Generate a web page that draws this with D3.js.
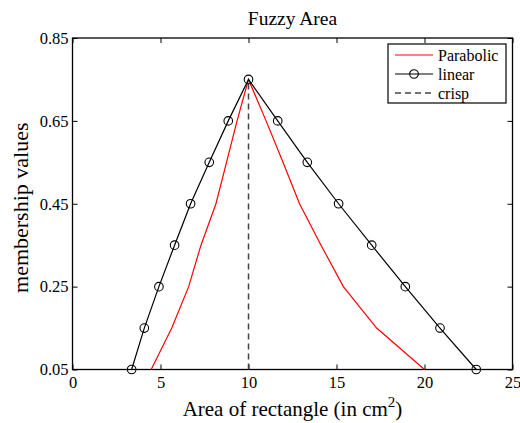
<!DOCTYPE html>
<html>
<head>
<meta charset="utf-8">
<script src="https://cdn.jsdelivr.net/npm/d3@7"></script>
<style>
  body { margin: 0; background: #fff; }
  svg text { font-family: "Liberation Serif", "Times New Roman", serif; fill: #000; }
</style>
</head>
<body>
<svg id="chart" width="520" height="423"></svg>
<script>
'use strict';

// membership levels shared by both curves
var levels = [0.05, 0.15, 0.25, 0.35, 0.45, 0.55, 0.65, 0.75, 0.65, 0.55, 0.45, 0.35, 0.25, 0.15, 0.05];
var linearX = [3.36, 4.08, 4.91, 5.8, 6.71, 7.77, 8.85, 10, 11.66, 13.34, 15.12, 17.0, 18.91, 20.88, 22.94];
var parabolicX = [4.47, 5.64, 6.6, 7.3, 8.15, 8.75, 9.35, 10, 11.0, 11.96, 12.9, 14.12, 15.39, 17.28, 20.0];
var crispX = [10, 10];
var crispY = [0.05, 0.75];
var xTicks = [0, 5, 10, 15, 20, 25];
var yTicks = [0.05, 0.25, 0.45, 0.65, 0.85];
var legendNames = ['Parabolic', 'linear', 'crisp'];

var svg = d3.select('#chart'),
    margin = { top: 38, right: 7.5, bottom: 53.5, left: 72.5 },
    width = 520 - margin.left - margin.right,
    height = 423 - margin.top - margin.bottom,
    x = d3.scaleLinear().domain([0, 25]).range([0, width]),
    y = d3.scaleLinear().domain([0.05, 0.85]).range([height, 0]),
    g = svg.append('g').attr('transform', 'translate(' + margin.left + ',' + margin.top + ')');

function pts(xs, ys) {
  return xs.map(function (d, i) { return [d, ys[i]]; });
}

var line = d3.line().x(function (d) { return x(d[0]); }).y(function (d) { return y(d[1]); });

// axes with inward ticks, box style
function styleAxis(sel) {
  sel.select('.domain').remove();
  sel.selectAll('.tick line').attr('stroke', '#000');
  sel.selectAll('.tick text').style('font-size', '16.5px').style('font-family', '"Liberation Serif", serif');
}

g.append('g').attr('transform', 'translate(0,' + height + ')')
  .call(d3.axisBottom(x).tickValues(xTicks).tickFormat(d3.format('d')).tickSizeInner(-5).tickPadding(7))
  .call(styleAxis);
g.append('g')
  .call(d3.axisTop(x).tickValues(xTicks).tickSizeInner(-5).tickFormat(''))
  .call(styleAxis);
g.append('g')
  .call(d3.axisLeft(y).tickValues(yTicks).tickFormat(d3.format('.2f')).tickSizeInner(-5).tickPadding(4))
  .call(styleAxis);
g.append('g').attr('transform', 'translate(' + width + ',0)')
  .call(d3.axisRight(y).tickValues(yTicks).tickSizeInner(-5).tickFormat(''))
  .call(styleAxis);

g.append('rect').attr('width', width).attr('height', height)
  .attr('fill', 'none').attr('stroke', '#000').attr('stroke-width', 1.3);

// crisp
g.append('path').datum(pts(crispX, crispY)).attr('d', line)
  .attr('fill', 'none').attr('stroke', '#444').attr('stroke-width', 1.5).attr('stroke-dasharray', '6,4');

// parabolic
g.append('path').datum(pts(parabolicX, levels)).attr('d', line)
  .attr('fill', 'none').attr('stroke', '#ff0000').attr('stroke-width', 1.2);

// linear
var linPts = pts(linearX, levels);
g.append('path').datum(linPts).attr('d', line)
  .attr('fill', 'none').attr('stroke', '#000').attr('stroke-width', 1.2);
g.selectAll('circle.mk').data(linPts).enter().append('circle').attr('class', 'mk')
  .attr('cx', function (d) { return x(d[0]); })
  .attr('cy', function (d) { return y(d[1]); })
  .attr('r', 4.3).attr('fill', 'none').attr('stroke', '#000').attr('stroke-width', 1.1);

// title and labels
svg.append('text').attr('x', margin.left + width / 2).attr('y', 25)
  .attr('text-anchor', 'middle').style('font-size', '19.5px').text('Fuzzy Area');

var xl = svg.append('text').attr('x', margin.left + width / 2).attr('y', 416)
  .attr('text-anchor', 'middle').style('font-size', '21px');
xl.append('tspan').text('Area of rectangle (in cm');
xl.append('tspan').attr('dy', -9).style('font-size', '15px').text('2');
xl.append('tspan').attr('dy', 9).text(')');

svg.append('text').attr('transform', 'translate(28,' + (margin.top + height / 2 + 4) + ') rotate(-90)')
  .attr('text-anchor', 'middle').style('font-size', '22px').text('membership values');

// legend
var lg = svg.append('g').attr('transform', 'translate(388,44)');
lg.append('rect').attr('width', 118).attr('height', 59)
  .attr('fill', '#fff').attr('stroke', '#000').attr('stroke-width', 1.2);
var rows = lg.selectAll('g.row').data(legendNames).enter().append('g')
  .attr('transform', function (d, i) { return 'translate(0,' + (11 + i * 19) + ')'; });
rows.append('line').attr('x1', 7).attr('x2', 45)
  .attr('stroke', function (d, i) { return i === 0 ? '#ff0000' : (i === 1 ? '#000' : '#444'); })
  .attr('stroke-width', function (d, i) { return i === 2 ? 1.5 : 1.2; })
  .attr('stroke-dasharray', function (d, i) { return i === 2 ? '6,4' : null; });
rows.filter(function (d, i) { return i === 1; }).append('circle')
  .attr('cx', 26).attr('r', 4.3).attr('fill', 'none').attr('stroke', '#000').attr('stroke-width', 1.1);
rows.append('text').attr('x', 50).attr('dy', '0.35em').style('font-size', '16px')
  .text(function (d) { return d; });
</script>
</body>
</html>
